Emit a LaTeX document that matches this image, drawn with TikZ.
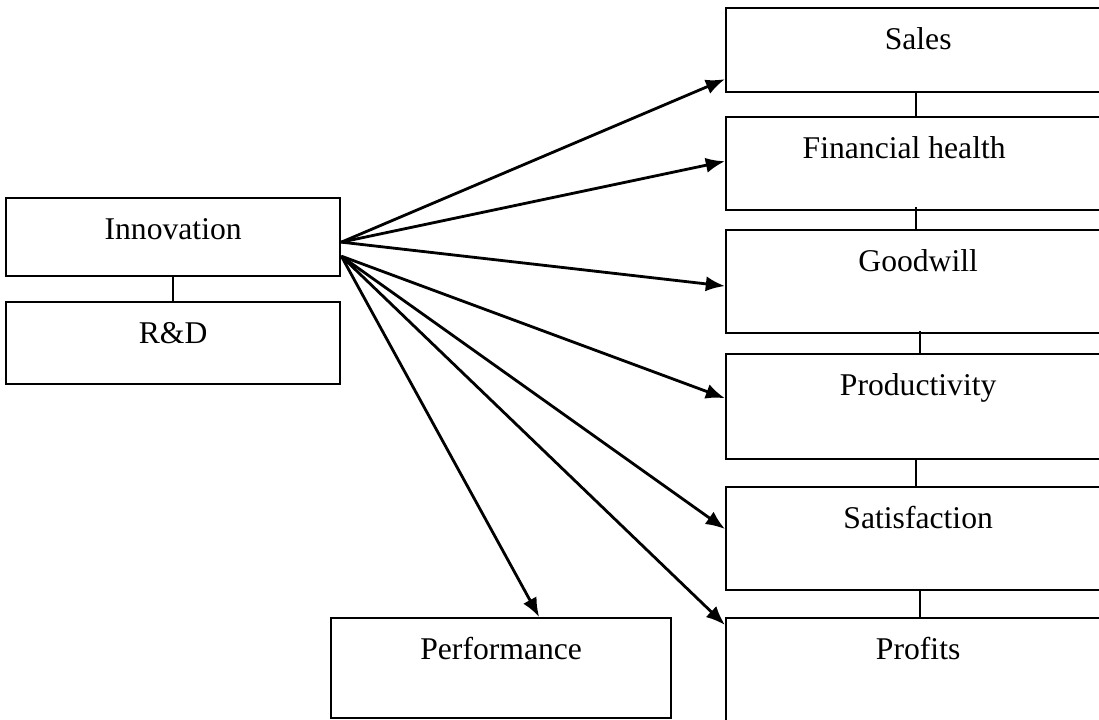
\documentclass[tikz,border=0pt]{standalone}
\usepackage{fontspec}
\setmainfont{Liberation Serif}
\usetikzlibrary{arrows.meta}
\tikzset{
  box/.style={draw, line width=1.6pt, anchor=north west, inner sep=0pt,
    text height=1.025cm, text depth=#1, font=\fontsize{22.5}{27}\selectfont},
  wide/.style={minimum width=9.6cm},
  arr/.style={line width=2pt, -{Latex[length=0.48cm,width=0.38cm]}},
  link/.style={line width=1.2pt}
}
\begin{document}
\begin{tikzpicture}[x=0.025cm,y=-0.025cm]
          \clip (0,0) rectangle (1099,719);
          \node[box=0.925cm, minimum width=8.35cm] (inno) at (5,197) {Innovation};
          \node[box=1.025cm, minimum width=8.35cm] (rnd) at (5,301) {R\&D};
          \node[box=1.475cm, minimum width=8.5cm] (perform) at (330,617) {Performance};
          \node[box=1.075cm, wide] (sales) at (725,7) {Sales};
          \node[box=1.3cm, wide] (finance) at (725,116) {Financial health\hspace*{0.7cm}};
          \node[box=1.55cm, wide] (goodwill) at (725,229) {Goodwill};
          \node[box=1.6cm, wide] (product) at (725,353) {Productivity};
          \node[box=1.55cm, wide] (satisf) at (725,486) {Satisfaction};
          \node[box=1.8cm, wide] (profits) at (725,617) {Profits};
          \draw[link] (inno.south) -- (rnd.north);
          \draw[link] ([xshift=-0.05cm]sales.south) -- ([xshift=-0.05cm]finance.north);
          \draw[link] ([xshift=-0.05cm,yshift=0.1cm]finance.south) -- ([xshift=-0.05cm]goodwill.north);
          \draw[link] ([xshift=0.05cm,yshift=0.075cm]goodwill.south) -- ([xshift=0.05cm]product.north);
          \draw[link] ([xshift=-0.05cm]product.south) -- ([xshift=-0.05cm]satisf.north);
          \draw[link] ([xshift=0.05cm]satisf.south) -- ([xshift=0.05cm]profits.north);
          \coordinate (up) at ([yshift=-0.125cm]inno.east);
          \coordinate (low) at ([yshift=-0.475cm]inno.east);
          \draw[arr] (up) -- ([yshift=-0.725cm]sales.west);
          \draw[arr] (up) -- ([yshift=0.06cm]finance.west);
          \draw[arr] (up) -- ([yshift=-0.11cm]goodwill.west);
          \draw[arr] (low) -- ([yshift=0.21cm]product.west);
          \draw[arr] (low) -- ([yshift=0.24cm]satisf.west);
          \draw[arr] (low) -- ([yshift=-0.2cm]profits.north west);
          \draw[arr] (low) -- ([xshift=0.95cm]perform.north);
\end{tikzpicture}
\end{document}
